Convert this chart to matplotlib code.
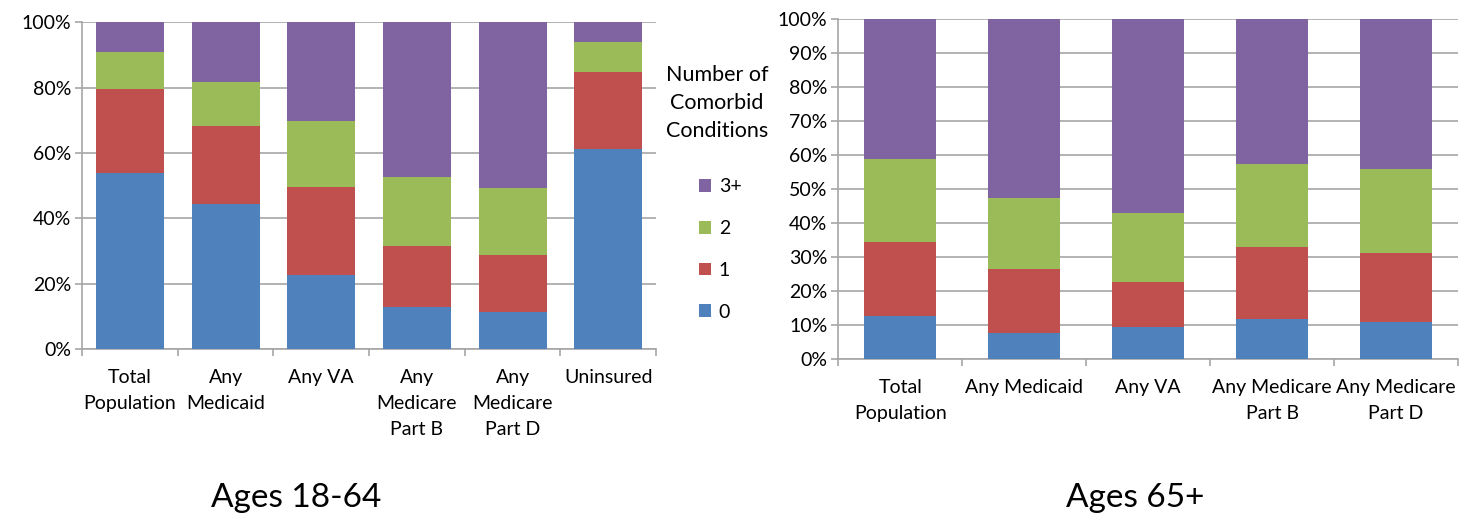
import matplotlib
matplotlib.use("Agg")
import matplotlib.pyplot as plt
from matplotlib.patches import Patch
import numpy as np

plt.rcParams['font.family'] = ['Lato', 'DejaVu Sans']

series_names = ["0", "1", "2", "3+"]
colors = ["#4F81BD", "#C0504D", "#9BBB59", "#8064A2"]

cats_young = ["Total\nPopulation", "Any\nMedicaid", "Any VA", "Any\nMedicare\nPart B",
              "Any\nMedicare\nPart D", "Uninsured"]
young_0 = [53.8, 44.4, 22.6, 12.9, 11.3, 61.2]
young_1 = [25.8, 24.0, 27.1, 18.8, 17.6, 23.7]
young_2 = [11.4, 13.2, 20.2, 21.0, 20.3, 9.0]
young_3 = [9.0, 18.4, 30.1, 47.3, 50.8, 6.1]

cats_old = ["Total\nPopulation", "Any Medicaid", "Any VA", "Any Medicare\nPart B",
            "Any Medicare\nPart D"]
old_0 = [12.7, 7.6, 9.6, 11.8, 10.9]
old_1 = [21.9, 19.0, 13.2, 21.3, 20.4]
old_2 = [24.2, 20.9, 20.3, 24.3, 24.6]
old_3 = [41.2, 52.5, 56.9, 42.6, 44.1]

fig = plt.figure(figsize=(14.6, 5.17), dpi=100)

grid_c = "#A6A6A6"
FS = 14

def draw(ax, cats, data, width, yticks):
    x = np.arange(len(cats))
    bottom = np.zeros(len(cats))
    for vals, c in zip(data, colors):
        v = np.array(vals, dtype=float)
        ax.bar(x, v, width, bottom=bottom, color=c, zorder=3, linewidth=0)
        bottom += v
    ax.set_xlim(-0.5, len(cats) - 0.5)
    ax.set_ylim(0, 100)
    ax.set_yticks(yticks)
    ax.set_yticklabels([f"{int(t)}%" for t in yticks], fontsize=FS)
    ax.set_xticks(x)
    ax.set_xticklabels(cats, fontsize=FS, linespacing=1.65, va='top')
    ax.tick_params(axis='x', which='major', length=0, pad=14)
    ax.set_xticks(np.arange(-0.5, len(cats)), minor=True)
    ax.tick_params(axis='x', which='minor', length=5, color=grid_c, width=1.2)
    ax.tick_params(axis='y', length=5, color=grid_c, width=1.2, pad=3)
    ax.yaxis.grid(True, color=grid_c, linewidth=1.2, zorder=0)
    ax.set_axisbelow(True)
    for s in ["top", "right"]:
        ax.spines[s].set_visible(False)
    for s in ["left", "bottom"]:
        ax.spines[s].set_color(grid_c)
        ax.spines[s].set_linewidth(1.2)

ax1 = fig.add_axes([0.0562, 0.3244, 0.3932, 0.6325])
draw(ax1, cats_young, [young_0, young_1, young_2, young_3], 0.71, np.arange(0, 101, 20))

ax2 = fig.add_axes([0.5742, 0.305, 0.4244, 0.6582])
draw(ax2, cats_old, [old_0, old_1, old_2, old_3], 0.58, np.arange(0, 101, 10))

fig.text(717 / 1460, 1 - 103 / 517, "Number of\nComorbid\nConditions", ha='center', va='center',
         fontsize=15.5, linespacing=1.5)

handles = [Patch(facecolor=c, edgecolor='none') for c in colors[::-1]]
fig.legend(handles, series_names[::-1], loc='upper left',
           bbox_to_anchor=(681.5 / 1460, 1 - 161 / 517), frameon=False, fontsize=FS,
           handlelength=0.62, handleheight=0.62, handletextpad=0.4, labelspacing=1.27)

fig.text(296 / 1460, 1 - 498 / 517, "Ages 18-64", ha='center', va='center', fontsize=24)
fig.text(1135 / 1460, 1 - 498 / 517, "Ages 65+", ha='center', va='center', fontsize=24)

fig.savefig("out.png", dpi=100)
